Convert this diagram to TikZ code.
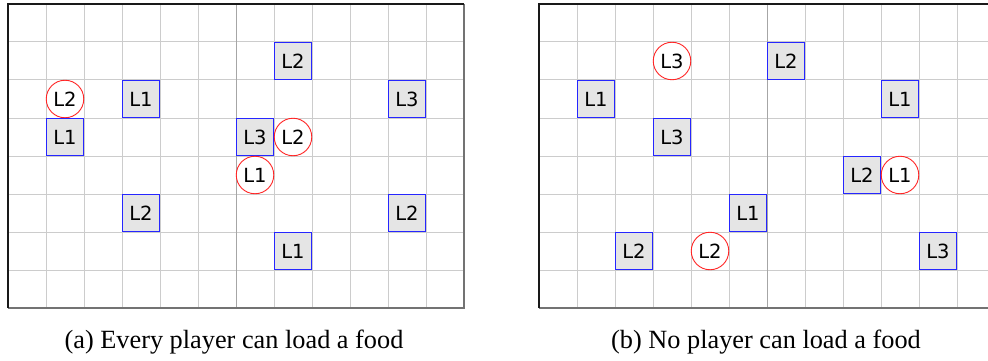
\documentclass[tikz,border=0pt]{standalone}
\usepackage{fontspec}
\setmainfont{Liberation Serif}
\newfontfamily\cellfont{DejaVu Sans}
\begin{document}
\begin{tikzpicture}[x=1pt,y=-1pt,
  gridline/.style={draw=black!20,line width=1pt},
  midline/.style={draw=black!35,line width=1pt},
  frameA/.style={draw=black!90,line width=1.3pt},
  frameB/.style={draw=black!55,line width=1.3pt},
  cellbase/.style={minimum size=37.5pt,inner sep=0pt,line width=0.9pt,
    font=\cellfont\fontsize{19.5}{19.5}\selectfont},
  food/.style={cellbase,rectangle,draw=blue!85!white,fill=black!10},
  agent/.style={cellbase,circle,draw=red!85!white,fill=white},
  capt/.style={anchor=base,font=\fontsize{26.3}{30}\selectfont}]
\useasboundingbox (0,0) rectangle (988,361);
\clip (0,0) rectangle (988,361);
\fill[white] (0,0) rectangle (988,361);

% grid world drawing: 12 x 8 cells of 38pt
\newcommand{\gridworld}{%
  \foreach \i in {1,...,11} {\draw[gridline] (38*\i,0) -- (38*\i,304);}
  \foreach \j in {1,...,7} {\draw[gridline] (0,38*\j) -- (456,38*\j);}
  \draw[midline] (228,0) -- (228,304);
  \draw[frameB] (456,0) -- (456,304) -- (0,304);
  \draw[frameA] (0,304) -- (0,0) -- (456,0);
}
\newcommand{\cellat}[2]{({38*#1+19},{38*#2+19})}

% (a) every player can load a food
\begin{scope}[shift={(8,4)}]
  \gridworld
  \node[agent] (a1) at \cellat{1}{2} {L2};
  \node[food]  (a2) at \cellat{3}{2} {L1};
  \node[food]  (a3) at \cellat{1}{3} {L1};
  \node[food]  (a4) at \cellat{7}{1} {L2};
  \node[food]  (a5) at \cellat{10}{2} {L3};
  \node[food]  (a6) at \cellat{6}{3} {L3};
  \node[agent] (a7) at \cellat{7}{3} {L2};
  \node[agent] (a8) at \cellat{6}{4} {L1};
  \node[food]  (a9) at \cellat{3}{5} {L2};
  \node[food]  (a10) at \cellat{10}{5} {L2};
  \node[food]  (a11) at \cellat{7}{6} {L1};
\end{scope}

% (b) no player can load a food
\begin{scope}[shift={(539,4)}]
  \gridworld
  \node[agent] (b1) at \cellat{3}{1} {L3};
  \node[food]  (b2) at \cellat{1}{2} {L1};
  \node[food]  (b3) at \cellat{3}{3} {L3};
  \node[food]  (b4) at \cellat{6}{1} {L2};
  \node[food]  (b5) at \cellat{9}{2} {L1};
  \node[food]  (b6) at \cellat{5}{5} {L1};
  \node[food]  (b7) at \cellat{2}{6} {L2};
  \node[agent] (b8) at \cellat{4}{6} {L2};
  \node[food]  (b9) at \cellat{8}{4} {L2};
  \node[agent] (b10) at \cellat{9}{4} {L1};
  \node[food]  (b11) at \cellat{10}{6} {L3};
\end{scope}

\node[capt] (capa) at (234,348) {(a) Every player can load a food};
\node[capt] (capb) at (766,348) {(b) No player can load a food};
\end{tikzpicture}
\end{document}
